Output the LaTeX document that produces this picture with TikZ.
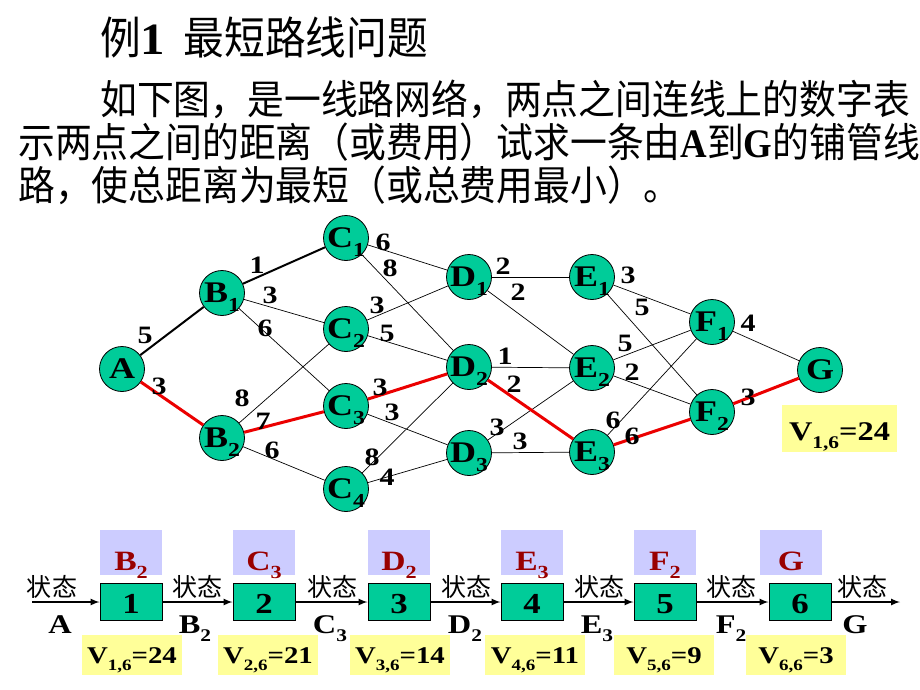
\documentclass[tikz,border=0pt]{standalone}
\usepackage{fontspec}
\setmainfont[FakeStretch=1.2]{Liberation Serif}
\newfontfamily\plainserif{Liberation Serif}
\newfontfamily\cjk{Noto Sans CJK SC}

\definecolor{nodegreen}{RGB}{0,204,153}
\definecolor{declav}{RGB}{204,204,255}
\definecolor{valyellow}{RGB}{255,255,153}
\definecolor{decred}{RGB}{153,0,0}
\definecolor{pathred}{RGB}{235,0,0}

\newcommand{\nlab}[2]{#1\raisebox{-0.3em}{\scalebox{0.66}{#2}}}
\newcommand{\tall}[1]{\scalebox{1}[1.1]{#1}}

\begin{document}
\begin{tikzpicture}[x=1pt,y=-1pt,
    stn/.style={circle,draw,line width=0.8pt,fill=nodegreen,minimum size=45pt,inner sep=0pt,
        text height=20pt,text depth=1pt,font=\fontsize{30}{30}\selectfont\bfseries},
    wt/.style={inner sep=0pt,font=\fontsize{25}{25}\selectfont\bfseries},
    ln/.style={line width=0.7pt},
    bk/.style={line width=2pt},
    rd/.style={line width=3pt,draw=pathred},
    txt/.style={anchor=base west,inner sep=0pt,font=\fontsize{36.8}{44}\selectfont},
    stagebox/.style={draw,line width=1pt,fill=nodegreen,minimum width=62pt,minimum height=37pt,
        inner sep=0pt,text height=24pt,text depth=2pt,font=\fontsize{29}{29}\selectfont\bfseries},
    decbox/.style={fill=declav,minimum width=62pt,minimum height=45pt,inner sep=0pt,
        text height=38pt,text depth=2pt,text=decred,font=\fontsize{28}{28}\selectfont\bfseries},
    valbox/.style={fill=valyellow,minimum width=100pt,minimum height=40pt,inner sep=0pt,
        text height=18pt,text depth=2pt,font=\fontsize{24}{24}\selectfont\bfseries},
    statelab/.style={anchor=base,inner sep=0pt,font=\fontsize{27}{27}\selectfont\bfseries},
    cjklab/.style={anchor=base,inner sep=0pt,font=\fontsize{25}{25}\selectfont\cjk},
    flow/.style={line width=2pt,-latex}]

    \useasboundingbox (0,0) rectangle (920,690);

    % title and question
    \node[txt,font=\fontsize{40.7}{48}\selectfont] (title) at (100,55)
        {\tall{{\cjk 例}\textbf{1}\hspace{0.45em}{\cjk 最短路线问题}}};
    \node[txt] (line1) at (100,114) {\tall{\cjk 如下图，是一线路网络，两点之间连线上的数字表}};
    \node[txt] (line2) at (18,157)
        {\tall{{\cjk 示两点之间的距离（或费用）试求一条由}{\plainserif\bfseries A}{\cjk 到}{\plainserif\bfseries G}{\cjk 的铺管线}}};
    \node[txt] (line3) at (18,200) {\tall{\cjk 路，使总距离为最短（或总费用最小）。}};

    % network
    \node[stn] (A) at (122,369) {A};
    \node[stn] (B1) at (222,293) {\nlab{B}{1}};
    \node[stn] (B2) at (222,438) {\nlab{B}{2}};
    \node[stn] (C1) at (346,238) {\nlab{C}{1}};
    \node[stn] (C2) at (346,329) {\nlab{C}{2}};
    \node[stn] (C3) at (346,406) {\nlab{C}{3}};
    \node[stn] (C4) at (346,489) {\nlab{C}{4}};
    \node[stn] (D1) at (469,277) {\nlab{D}{1}};
    \node[stn] (D2) at (469,367) {\nlab{D}{2}};
    \node[stn] (D3) at (469,453) {\nlab{D}{3}};
    \node[stn] (E1) at (592,277) {\nlab{E}{1}};
    \node[stn] (E2) at (592,368) {\nlab{E}{2}};
    \node[stn] (E3) at (592,452) {\nlab{E}{3}};
    \node[stn] (F1) at (712,322) {\nlab{F}{1}};
    \node[stn] (F2) at (712,412) {\nlab{F}{2}};
    \node[stn] (G) at (820,370) {G};

    \foreach \u/\v in {B1/C2,B1/C3,B2/C2,B2/C4,C1/D1,C1/D2,C2/D1,C2/D2,C3/D3,C4/D2,C4/D3,
        D1/E1,D1/E2,D2/E2,D3/E2,D3/E3,E1/F1,E1/F2,E2/F1,E2/F2,E3/F1,F1/G}
        \draw[ln] (\u) -- (\v);
    \draw[bk] (A) -- (B1);
    \draw[bk] (B1) -- (C1);
    \foreach \u/\v in {A/B2,B2/C3,C3/D2,D2/E3,E3/F2,F2/G}
        \draw[rd] (\u) -- (\v);

    \foreach \n/\x/\y/\w in {AB1/145/335/5, AB2/159/386/3, B1C1/257/265/1, B1C2/270/295/3,
        B1C3/265/328/6, B2C2/242/398/8, B2C3/263/421/7, B2C4/272/450/6,
        C1D1/383/242/6, C1D2/390/268/8, C2D1/377/305/3, C2D2/387/333/5,
        C3D2/380/387/3, C3D3/392/412/3, C4D2/372/457/8, C4D3/387/477/4,
        D1E1/503/266/2, D1E2/518/292/2, D2E2/505/356/1, D2E3/514/384/2,
        D3E2/497/427/3, D3E3/520/441/3, E1F1/628/275/3, E1F2/642/307/5,
        E2F1/625/343/5, E2F2/632/372/2, E3F1/613/420/6, E3F2/632/436/6,
        F1G/748/323/4, F2G/748/397/3}
        \node[wt] (w\n) at (\x,\y) {\w};

    \node[valbox,minimum width=115pt,minimum height=47pt,text height=25pt,
        font=\fontsize{27}{27}\selectfont\bfseries] (vtot) at (839.5,428.5) {\nlab{V}{1,6}=24};

    % stages
    \foreach \i/\x/\dx/\dec/\vx/\val in {1/131/131/{\nlab{B}{2}}/132/{\nlab{V}{1,6}=24},
        2/264/264/{\nlab{C}{3}}/268/{\nlab{V}{2,6}=21},
        3/399/399/{\nlab{D}{2}}/400/{\nlab{V}{3,6}=14},
        4/532/532/{\nlab{E}{3}}/535/{\nlab{V}{4,6}=11},
        5/665/665/{\nlab{F}{2}}/664/{\nlab{V}{5,6}=9},
        6/800/791/G/796/{\nlab{V}{6,6}=3}} {
        \node[stagebox] (s\i) at (\x,602) {\i};
        \node[decbox] (d\i) at (\dx,552) {\dec};
        \node[valbox] (v\i) at (\vx,655) {\val};
    }

    \coordinate (a0) at (32,602);
    \coordinate (a7) at (900,602);
    \draw[flow] (a0) -- (s1.west);
    \foreach \i/\j in {1/2,2/3,3/4,4/5,5/6}
        \draw[flow] (s\i.east) -- (s\j.west);
    \draw[flow] (s6.east) -- (a7);

    \foreach \k/\x/\sx/\s in {0/52/60/A, 1/197/195/{\nlab{B}{2}}, 2/332/330/{\nlab{C}{3}},
        3/466/465/{\nlab{D}{2}}, 4/599/597/{\nlab{E}{3}}, 5/731/731/{\nlab{F}{2}}, 6/862/855/G} {
        \node[cjklab] (z\k) at (\x,596) {状态};
        \node[statelab] (t\k) at (\sx,633) {\s};
    }

\end{tikzpicture}
\end{document}
